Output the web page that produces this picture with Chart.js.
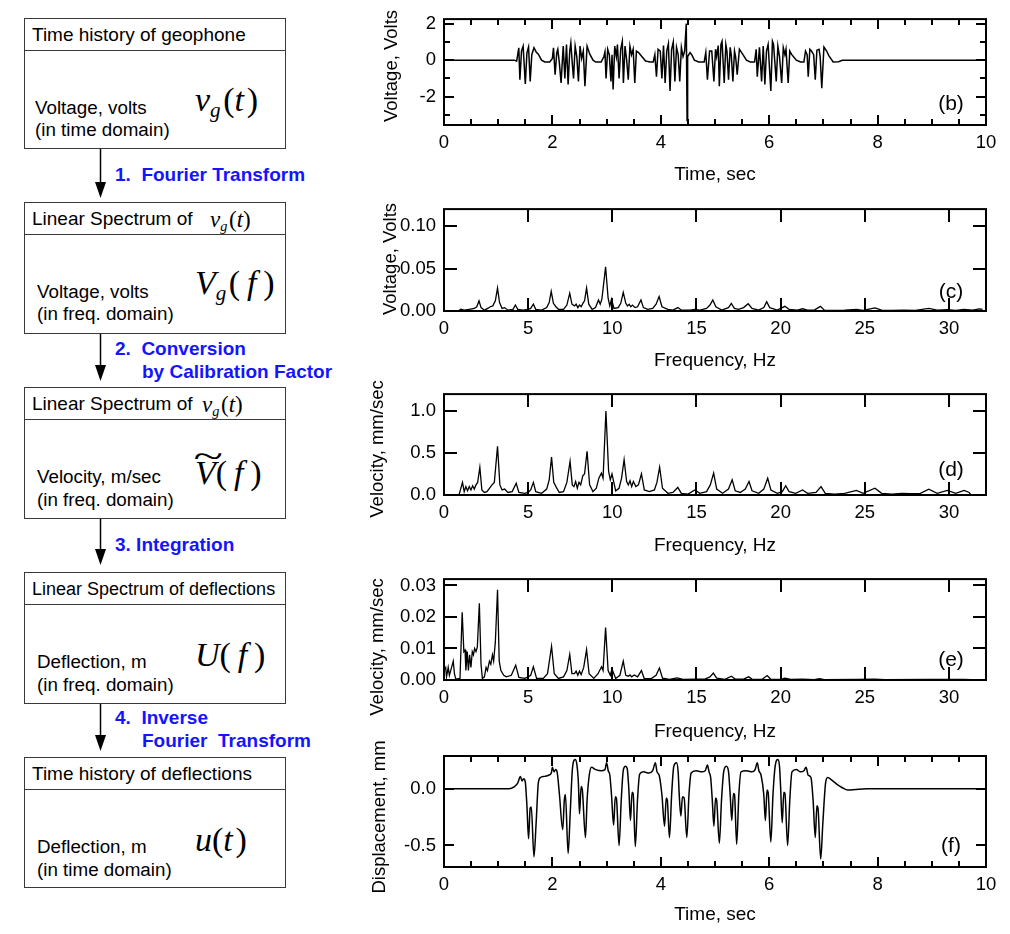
<!DOCTYPE html>
<html><head><meta charset="utf-8">
<script src="https://cdn.jsdelivr.net/npm/chart.js@4.4.0/dist/chart.umd.min.js"></script>
<style>
html,body{margin:0;padding:0;background:#fff}
body{width:1010px;height:934px;position:relative;overflow:hidden;font-family:"Liberation Sans",Arial,sans-serif;color:#000}
.box{position:absolute;left:24px;width:262px;border:1.5px solid #3a3a3a;box-sizing:border-box}
.hl{position:absolute;left:0;right:0;top:31px;border-top:1.5px solid #3a3a3a}
.t{position:absolute;white-space:pre;transform:translateY(-50%);line-height:1.15}
.h{font-size:19px}
.b{font-size:18.8px}
.blue{color:#1414ff;font-weight:bold;font-size:19px}
.m{position:absolute;white-space:pre;transform:translateY(-50%);font-family:"Liberation Serif","Times New Roman",serif;line-height:1}
.sb{font-size:0.62em;position:relative;top:0.3em;margin-right:0.12em}
.tl{position:relative;display:inline-block}
.tilde{position:absolute;left:0.12em;top:-0.5em;font-style:normal;transform:scaleX(1.6)}
canvas{position:absolute;left:360px}
</style>
</head><body>

<!-- flowchart -->
<div class="box" style="top:18px;height:131px"><div class="hl"></div></div>
<div class="box" style="top:202px;height:132px"><div class="hl"></div></div>
<div class="box" style="top:387px;height:132px"><div class="hl"></div></div>
<div class="box" style="top:572px;height:132px"><div class="hl"></div></div>
<div class="box" style="top:757px;height:131px"><div class="hl"></div></div>

<div class="t h" style="left:32px;top:35px">Time history of geophone</div>
<div class="t b" style="left:35px;top:108px">Voltage, volts</div>
<div class="t b" style="left:35px;top:130px">(in time domain)</div>
<div class="m" style="left:195px;top:100px;font-size:34px"><i>v</i><i class="sb">g</i>(<i>t</i>&#8202;)</div>

<div class="t h" style="left:32px;top:219px">Linear Spectrum of</div>
<div class="m" style="left:210px;top:219px;font-size:23px"><i>v</i><i class="sb">g</i>(<i>t</i>)</div>
<div class="t b" style="left:37px;top:292px">Voltage, volts</div>
<div class="t b" style="left:37px;top:314px">(in freq. domain)</div>
<div class="m" style="left:195px;top:283px;font-size:34px"><i>V</i><i class="sb">g</i>(&#8201;<i>f</i>&#8201;)</div>

<div class="t h" style="left:32px;top:404px">Linear Spectrum of</div>
<div class="m" style="left:202px;top:404px;font-size:23px"><i>v</i><i class="sb">g</i>(<i>t</i>)</div>
<div class="t b" style="left:37px;top:477px">Velocity, m/sec</div>
<div class="t b" style="left:37px;top:500px">(in freq. domain)</div>
<div class="m" style="left:195px;top:473px;font-size:34px"><span class="tl"><i>V</i><span class="tilde">~</span></span>(&#8201;<i>f</i>&#8201;)</div>

<div class="t h" style="left:32px;top:589px;font-size:18px">Linear Spectrum of deflections</div>
<div class="t b" style="left:37px;top:662px">Deflection, m</div>
<div class="t b" style="left:37px;top:685px">(in freq. domain)</div>
<div class="m" style="left:195px;top:655px;font-size:34px"><i>U</i>(&#8201;<i>f</i>&#8201;)</div>

<div class="t h" style="left:32px;top:774px">Time history of deflections</div>
<div class="t b" style="left:37px;top:847px">Deflection, m</div>
<div class="t b" style="left:37px;top:870px">(in time domain)</div>
<div class="m" style="left:195px;top:840px;font-size:34px"><i>u</i>(<i>t</i>&#8202;)</div>

<div class="t blue" style="left:115px;top:175px">1.  Fourier Transform</div>
<div class="t blue" style="left:115px;top:349px">2.  Conversion</div>
<div class="t blue" style="left:142px;top:372px">by Calibration Factor</div>
<div class="t blue" style="left:115px;top:545px">3. Integration</div>
<div class="t blue" style="left:115px;top:718px">4.  Inverse</div>
<div class="t blue" style="left:142px;top:741px">Fourier  Transform</div>

<svg style="position:absolute;left:0;top:0" width="360" height="934">
  <g stroke="#000" stroke-width="1.5">
    <line x1="100.5" y1="149" x2="100.5" y2="185"/>
    <line x1="100.5" y1="334" x2="100.5" y2="368"/>
    <line x1="100.5" y1="519" x2="100.5" y2="552"/>
    <line x1="100.5" y1="704" x2="100.5" y2="738"/>
  </g>
  <g fill="#000">
    <polygon points="95,182 106,182 100.5,198"/>
    <polygon points="95,365 106,365 100.5,381"/>
    <polygon points="95,549 106,549 100.5,565"/>
    <polygon points="95,735 106,735 100.5,751"/>
  </g>
</svg>

<canvas id="cb" width="650" height="190" style="top:0px"></canvas>
<canvas id="cc" width="650" height="185" style="top:190px"></canvas>
<canvas id="cd" width="650" height="185" style="top:375px"></canvas>
<canvas id="ce" width="650" height="185" style="top:560px"></canvas>
<canvas id="cf" width="650" height="199" style="top:735px"></canvas>

<script>
// ---------------- data ----------------
const timeTicks = [0, 2, 4, 6, 8, 10];
const timeMinorTicks = [0.5, 1, 1.5, 2.5, 3, 3.5, 4.5, 5, 5.5, 6.5, 7, 7.5, 8.5, 9, 9.5];
const freqTicks = [0, 5, 10, 15, 20, 25, 30];
const voltTimeTicks = [-2, 0, 2];
const voltTimeMinorTicks = [-3, -1, 1];
const voltFreqTicks = [0, 0.05, 0.10];
const velTicks = [0, 0.5, 1.0];
const velIntTicks = [0, 0.01, 0.02, 0.03];
const dispTicks = [-0.5, 0];

// (b) geophone voltage vs time [sec, volts]
const geophoneVoltage = [
[0,0],[1.3,0],[1.34,-0.05],
[1.36,0.3],[1.38,0.68],[1.40,-1.07],[1.43,0.5],[1.46,0.77],[1.50,-1.3],[1.53,0.4],[1.56,0.72],[1.59,-1.16],[1.62,0.3],[1.66,0.68],[1.70,0.45],[1.74,0.33],[1.80,0.0],[1.86,-0.1],[1.95,-0.1],
[2.0,0.1],[2.02,0.68],[2.05,-0.8],[2.08,0.4],[2.10,0.6],[2.13,-0.2],[2.16,-1.25],[2.19,0.3],[2.20,0.77],[2.23,-1.0],[2.26,0.86],[2.29,-1.33],[2.32,0.5],[2.34,0.95],[2.37,-0.3],[2.39,-1.0],[2.42,0.77],[2.45,0.2],[2.48,-1.16],[2.51,0.77],[2.54,0.1],[2.57,0.5],[2.60,-1.42],[2.64,0.77],[2.69,0.33],[2.75,0.0],[2.8,-0.1],[2.9,-0.1],
[2.95,0.2],[2.97,0.46],[2.99,-1.0],[3.02,0.6],[3.05,0.3],[3.08,-1.16],[3.10,0.3],[3.12,-1.6],[3.15,0.77],[3.18,0.2],[3.20,0.86],[3.23,-1.0],[3.26,0.6],[3.29,1.03],[3.31,-1.25],[3.34,0.77],[3.37,0.0],[3.40,-1.07],[3.43,0.77],[3.46,0.3],[3.49,0.6],[3.52,-1.25],[3.55,0.5],[3.59,0.42],[3.65,0.2],[3.72,-0.05],[3.8,-0.1],[3.86,-0.1],
[3.89,0.3],[3.92,-0.9],[3.95,0.6],[3.99,0.5],[4.02,-1.0],[4.05,0.8],[4.08,-1.25],[4.11,0.5],[4.14,0.9],[4.17,-1.68],[4.20,0.6],[4.23,1.0],[4.26,-1.16],[4.29,0.7],[4.32,0.3],[4.35,-1.16],[4.38,0.7],[4.41,0.2],[4.44,0.5],[4.47,2.0],[4.48,2.0],[4.485,-3.3],[4.49,-3.3],[4.50,0.2],[4.54,0.42],[4.57,0.3],[4.62,0.0],[4.7,-0.1],[4.8,-0.1],
[4.83,0.42],[4.86,-1.07],[4.90,0.5],[4.94,0.5],[4.98,-1.16],[5.01,0.6],[5.03,0.2],[5.06,0.8],[5.08,-1.42],[5.11,0.86],[5.13,1.03],[5.17,-1.25],[5.20,0.86],[5.22,0.5],[5.25,-1.07],[5.28,0.7],[5.30,0.3],[5.33,-1.16],[5.36,0.5],[5.38,0.2],[5.41,-0.8],[5.45,0.6],[5.51,0.33],[5.58,0.0],[5.65,-0.1],[5.73,-0.1],
[5.76,0.6],[5.78,-0.9],[5.82,0.7],[5.86,-1.16],[5.89,0.77],[5.92,-1.33],[5.95,0.5],[5.98,0.86],[6.03,-1.68],[6.06,1.03],[6.08,0.86],[6.13,-1.16],[6.16,0.77],[6.19,0.2],[6.23,-1.25],[6.26,0.68],[6.29,0.3],[6.31,0.6],[6.35,-1.25],[6.38,0.5],[6.41,0.33],[6.5,0.0],[6.58,-0.1],[6.64,-0.1],
[6.67,0.5],[6.70,0.3],[6.72,-0.9],[6.75,0.6],[6.78,0.5],[6.82,0.3],[6.85,-1.07],[6.88,0.55],[6.92,0.6],[6.94,0.2],[6.97,-1.54],[7.01,0.72],[7.06,0.5],[7.10,0.25],[7.18,-0.1],[7.28,-0.08],[7.35,0.0],[10,0]
];

// (c) linear spectrum of voltage [Hz, volts]
const voltageSpectrum = [
[0,0.0005],[0.9,0.0008],[1.0,0.002],[1.2,0.001],[1.5,0.002],[1.8,0.003],[1.95,0.005],[2.08,0.012],[2.2,0.004],[2.4,0.001],[2.6,0.003],[2.75,0.005],[2.9,0.006],[3.05,0.012],[3.18,0.027],[3.3,0.01],[3.45,0.003],[3.6,0.004],[3.8,0.001],[4.1,0.002],[4.24,0.007],[4.38,0.002],[4.7,0.001],[5.0,0.002],[5.15,0.003],[5.31,0.008],[5.45,0.002],[5.8,0.001],[6.1,0.004],[6.25,0.01],[6.37,0.023],[6.5,0.009],[6.65,0.005],[6.8,0.002],[7.1,0.002],[7.3,0.007],[7.47,0.021],[7.6,0.008],[7.75,0.006],[7.85,0.008],[7.95,0.004],[8.05,0.007],[8.15,0.005],[8.25,0.009],[8.35,0.012],[8.47,0.027],[8.6,0.008],[8.8,0.002],[9.0,0.004],[9.18,0.013],[9.28,0.008],[9.38,0.014],[9.6,0.052],[9.75,0.015],[9.85,0.006],[9.95,0.014],[10.1,0.003],[10.35,0.004],[10.5,0.009],[10.65,0.022],[10.8,0.009],[10.9,0.006],[11.0,0.008],[11.1,0.005],[11.2,0.007],[11.35,0.004],[11.5,0.005],[11.7,0.013],[11.85,0.004],[12.1,0.002],[12.4,0.003],[12.6,0.008],[12.78,0.017],[12.95,0.005],[13.3,0.002],[13.6,0.001],[13.9,0.004],[14.1,0.001],[14.6,0.001],[14.9,0.002],[15.2,0.001],[15.6,0.003],[15.8,0.007],[15.97,0.013],[16.15,0.005],[16.5,0.001],[16.9,0.004],[17.07,0.009],[17.25,0.003],[17.5,0.002],[17.8,0.004],[18.07,0.0085],[18.3,0.003],[18.7,0.001],[19.0,0.004],[19.17,0.011],[19.35,0.004],[19.8,0.001],[20.25,0.0055],[20.5,0.002],[21.0,0.001],[21.3,0.0026],[21.6,0.001],[22.0,0.001],[22.36,0.0055],[22.6,0.001],[23.2,0.0008],[23.8,0.001],[24.5,0.002],[24.9,0.0008],[25.6,0.0037],[26.0,0.001],[26.6,0.0008],[27.3,0.001],[28.0,0.0008],[28.8,0.003],[29.3,0.001],[29.9,0.0015],[30.4,0.0008],[30.9,0.002],[31.4,0.001],[31.8,0.0025],[32,0.002]
];

// (d) linear spectrum of velocity [Hz, mm/sec]
const velocitySpectrum = [
[0,0.005],[0.9,0.006],[1.1,0.15],[1.2,0.04],[1.3,0.1],[1.4,0.05],[1.5,0.1],[1.6,0.06],[1.7,0.11],[1.8,0.07],[1.9,0.12],[2.0,0.15],[2.13,0.33],[2.25,0.06],[2.4,0.03],[2.55,0.04],[2.7,0.08],[2.85,0.12],[2.99,0.15],[3.18,0.58],[3.32,0.12],[3.45,0.06],[3.6,0.07],[3.8,0.03],[4.05,0.04],[4.29,0.14],[4.45,0.03],[4.8,0.02],[5.0,0.03],[5.15,0.06],[5.31,0.15],[5.45,0.04],[5.8,0.02],[6.1,0.07],[6.25,0.18],[6.39,0.45],[6.52,0.15],[6.65,0.1],[6.85,0.03],[7.1,0.04],[7.3,0.15],[7.49,0.4],[7.62,0.12],[7.72,0.1],[7.82,0.16],[7.92,0.08],[8.02,0.15],[8.12,0.12],[8.25,0.23],[8.35,0.25],[8.5,0.52],[8.65,0.12],[8.85,0.04],[9.05,0.08],[9.2,0.2],[9.35,0.26],[9.45,0.2],[9.62,1.0],[9.78,0.28],[9.88,0.18],[9.98,0.25],[10.2,0.05],[10.4,0.08],[10.55,0.2],[10.7,0.42],[10.85,0.16],[10.95,0.12],[11.05,0.17],[11.15,0.1],[11.25,0.16],[11.4,0.1],[11.55,0.12],[11.73,0.25],[11.9,0.06],[12.2,0.04],[12.5,0.06],[12.65,0.15],[12.81,0.33],[12.98,0.08],[13.3,0.02],[13.6,0.03],[13.89,0.09],[14.1,0.02],[14.5,0.01],[14.9,0.06],[15.2,0.02],[15.6,0.04],[15.82,0.12],[16.02,0.26],[16.2,0.07],[16.55,0.02],[16.9,0.07],[17.12,0.18],[17.3,0.05],[17.6,0.03],[17.9,0.07],[18.12,0.16],[18.3,0.05],[18.7,0.02],[19.0,0.07],[19.23,0.2],[19.42,0.06],[19.8,0.02],[20.1,0.04],[20.3,0.11],[20.5,0.04],[20.9,0.02],[21.3,0.06],[21.6,0.02],[22.1,0.03],[22.4,0.1],[22.65,0.02],[23.2,0.01],[23.8,0.02],[24.5,0.055],[24.9,0.02],[25.6,0.08],[26.0,0.02],[26.6,0.01],[27.2,0.02],[27.7,0.015],[28.3,0.02],[28.8,0.07],[29.3,0.02],[29.9,0.055],[30.4,0.02],[30.9,0.055],[31.2,0.03],[31.3,0.005]
];

// (e) spectrum after integration [Hz, value]
const integratedSpectrum = [
[0,0.003],[0.1,0.004],[0.15,0.001],[0.25,0.004],[0.32,0.0015],[0.45,0.004],[0.55,0.006],[0.62,0.002],[0.7,0.0003],[0.95,0.0005],[1.08,0.0215],[1.18,0.009],[1.25,0.0095],[1.3,0.003],[1.38,0.009],[1.45,0.003],[1.52,0.008],[1.6,0.004],[1.68,0.009],[1.75,0.008],[1.82,0.01],[1.9,0.009],[1.98,0.0104],[2.1,0.0243],[2.2,0.005],[2.28,0.0005],[2.4,0.001],[2.5,0.004],[2.58,0.003],[2.7,0.006],[2.78,0.005],[2.88,0.008],[2.95,0.006],[3.05,0.012],[3.18,0.0286],[3.28,0.006],[3.38,0.003],[3.55,0.0015],[3.7,0.001],[4.0,0.0015],[4.26,0.0047],[4.45,0.0008],[4.8,0.0005],[5.0,0.001],[5.15,0.0015],[5.31,0.0042],[5.5,0.0005],[5.9,0.0005],[6.15,0.002],[6.39,0.0107],[6.55,0.002],[6.8,0.0005],[7.1,0.001],[7.3,0.003],[7.47,0.0081],[7.6,0.002],[7.75,0.002],[7.85,0.0028],[7.95,0.0015],[8.05,0.0028],[8.15,0.0017],[8.3,0.004],[8.47,0.0096],[8.62,0.002],[8.9,0.0005],[9.15,0.002],[9.36,0.0042],[9.45,0.003],[9.6,0.0166],[9.75,0.003],[9.88,0.0015],[9.98,0.0035],[10.2,0.0005],[10.45,0.0015],[10.65,0.006],[10.8,0.0015],[10.95,0.0012],[11.05,0.0016],[11.15,0.001],[11.3,0.0016],[11.5,0.001],[11.73,0.003],[11.9,0.0004],[12.3,0.0004],[12.6,0.0015],[12.8,0.0038],[12.98,0.0006],[13.4,0.0002],[13.84,0.0007],[14.2,0.0002],[14.9,0.0003],[15.5,0.0003],[15.8,0.001],[16.0,0.0022],[16.2,0.0006],[16.7,0.0002],[17.07,0.0012],[17.3,0.0003],[17.8,0.0003],[18.1,0.001],[18.3,0.0003],[18.9,0.0002],[19.2,0.0014],[19.4,0.0003],[20.0,0.0002],[20.25,0.0006],[20.6,0.0002],[21.3,0.0003],[22.0,0.0001],[22.3,0.0004],[22.6,0.0001],[24.5,0.0002],[25.6,0.0003],[26.2,0.0001],[28.8,0.0002],[29.9,0.0002],[30.9,0.0002],[31.3,0.0001]
];

// (f) displacement vs time [sec, mm]
const displacement = [
[0,0],[1.2,0],[1.3,0.02],[1.36,0.05],[1.41,0.11],[1.44,0.07],[1.47,0.09],[1.5,0.06],[1.53,-0.15],[1.56,-0.44],[1.59,-0.17],[1.61,-0.16],[1.66,-0.6],[1.70,-0.3],[1.74,0.05],[1.78,0.1],[1.85,0.11],[1.93,0.12],[1.98,0.14],[2.0,0.19],[2.03,0.15],[2.06,0.17],[2.09,0.14],[2.13,-0.05],[2.19,-0.36],[2.22,-0.1],[2.24,-0.05],[2.29,-0.57],[2.33,-0.2],[2.37,0.18],[2.42,0.26],[2.45,0.22],[2.48,0.05],[2.5,-0.22],[2.53,0.02],[2.55,0.0],[2.61,-0.43],[2.64,-0.1],[2.68,0.12],[2.72,0.19],[2.8,0.17],[2.9,0.16],[2.97,0.17],[3.0,0.23],[3.03,0.16],[3.06,0.12],[3.09,-0.05],[3.13,-0.32],[3.16,-0.07],[3.18,-0.08],[3.23,-0.5],[3.27,-0.1],[3.31,0.17],[3.35,0.2],[3.38,0.18],[3.41,0.0],[3.44,-0.28],[3.47,-0.03],[3.49,-0.04],[3.53,-0.51],[3.57,-0.1],[3.61,0.13],[3.68,0.15],[3.78,0.14],[3.85,0.16],[3.9,0.23],[3.93,0.15],[3.97,0.12],[4.02,-0.05],[4.07,-0.33],[4.1,-0.08],[4.12,-0.1],[4.16,-0.43],[4.2,-0.05],[4.24,0.2],[4.29,0.23],[4.32,0.15],[4.34,-0.05],[4.37,-0.24],[4.40,-0.07],[4.43,-0.08],[4.48,-0.43],[4.52,-0.05],[4.56,0.14],[4.65,0.16],[4.75,0.15],[4.82,0.16],[4.86,0.21],[4.89,0.15],[4.92,0.1],[4.95,-0.1],[4.98,-0.33],[5.01,-0.08],[5.03,-0.1],[5.08,-0.48],[5.12,-0.1],[5.16,0.15],[5.21,0.2],[5.25,0.15],[5.28,-0.05],[5.31,-0.28],[5.34,-0.04],[5.36,-0.05],[5.40,-0.49],[5.44,-0.05],[5.48,0.15],[5.58,0.16],[5.68,0.15],[5.74,0.17],[5.78,0.23],[5.81,0.16],[5.85,0.12],[5.9,-0.05],[5.93,-0.28],[5.96,-0.01],[5.98,-0.03],[6.03,-0.47],[6.07,-0.05],[6.11,0.2],[6.16,0.26],[6.19,0.2],[6.21,0.02],[6.24,-0.3],[6.27,-0.03],[6.29,-0.04],[6.34,-0.5],[6.38,-0.1],[6.42,0.15],[6.5,0.17],[6.58,0.15],[6.64,0.16],[6.68,0.19],[6.72,0.12],[6.77,0.1],[6.81,-0.1],[6.85,-0.43],[6.88,-0.15],[6.9,-0.17],[6.95,-0.62],[6.99,-0.3],[7.04,0.05],[7.08,0.1],[7.15,0.08],[7.25,0.04],[7.35,0.01],[7.45,-0.01],[7.6,-0.005],[7.8,0.0],[8.5,0.0],[10,0]
];

// ---------------- drawing ----------------
Chart.defaults.font.family = '"Liberation Sans", Arial, sans-serif';
Chart.defaults.color = '#000';

const frameTicks = {
  id: 'frameTicks',
  afterDatasetsDraw(chart, args, o) {
    const ctx = chart.ctx, a = chart.chartArea, xs = chart.scales.x, ys = chart.scales.y;
    ctx.save();
    ctx.strokeStyle = '#000';
    ctx.lineWidth = 2;
    ctx.strokeRect(a.left, a.top, a.right - a.left, a.bottom - a.top);
    ctx.beginPath();
    const hx = (vals, len) => vals.forEach(v => {
      const p = Math.round(xs.getPixelForValue(v));
      ctx.moveTo(p, a.bottom); ctx.lineTo(p, a.bottom - len);
      ctx.moveTo(p, a.top); ctx.lineTo(p, a.top + len);
    });
    const vy = (vals, len) => vals.forEach(v => {
      const p = Math.round(ys.getPixelForValue(v));
      ctx.moveTo(a.left, p); ctx.lineTo(a.left + len, p);
      ctx.moveTo(a.right, p); ctx.lineTo(a.right - len, p);
    });
    hx(o.xMajor || [], o.majorLen); hx(o.xMinor || [], o.minorLen);
    vy(o.yMajor || [], o.majorLen); vy(o.yMinor || [], o.minorLen);
    ctx.stroke();
    // panel tag
    ctx.fillStyle = '#000';
    ctx.font = '21px "Liberation Sans", Arial, sans-serif';
    ctx.textAlign = 'center'; ctx.textBaseline = 'middle';
    ctx.fillText(o.tag, a.right - 35, a.bottom - o.tagUp);
    // y title
    ctx.save();
    ctx.font = '18.5px "Liberation Sans", Arial, sans-serif';
    ctx.translate(o.yTitleX, o.yTitleY);
    ctx.rotate(-Math.PI / 2);
    ctx.fillText(o.yTitle, 0, 0);
    ctx.restore();
    ctx.restore();
  }
};

function makeChart(id, c) {
  new Chart(document.getElementById(id), {
    type: 'line',
    data: { datasets: [{
      data: c.data.map(p => ({ x: p[0], y: p[1] })),
      borderColor: '#000', borderWidth: c.lw, pointRadius: 0,
      tension: c.tension || 0, cubicInterpolationMode: c.mono ? 'monotone' : 'default', fill: false
    }]},
    options: {
      responsive: false, animation: false, events: [],
      layout: { padding: { left: 0, right: 24, top: c.padT, bottom: 0 } },
      plugins: {
        legend: { display: false }, tooltip: { enabled: false },
        frameTicks: {
          xMajor: c.xLabels, xMinor: c.xMinor, yMajor: c.yLabels, yMinor: c.yMinor,
          majorLen: c.majorLen, minorLen: c.minorLen, tag: c.tag, tagUp: c.tagUp,
          yTitle: c.yTitle, yTitleX: c.yTitleX, yTitleY: c.yTitleY
        }
      },
      scales: {
        x: {
          type: 'linear', min: c.xmin, max: c.xmax,
          grid: { display: false, drawTicks: false }, border: { display: false },
          afterBuildTicks: s => { s.ticks = c.xLabels.map(v => ({ value: v })); },
          afterFit: s => { s.height = c.xH; },
          ticks: { autoSkip: false, maxRotation: 0, padding: 7, color: '#000', font: { size: 18.5 },
                   callback: v => String(v) },
          title: { display: true, text: c.xTitle, color: '#000', font: { size: 19 },
                   padding: { top: 0, bottom: c.xTitlePad } }
        },
        y: {
          type: 'linear', min: c.ymin, max: c.ymax,
          grid: { display: false, drawTicks: false }, border: { display: false },
          afterBuildTicks: s => { s.ticks = c.yLabels.map(v => ({ value: v })); },
          afterFit: s => { s.width = 84; },
          ticks: { autoSkip: false, padding: 8, color: '#000', font: { size: 18.5 },
                   callback: v => c.yFmt(v) }
        }
      }
    },
    plugins: [frameTicks]
  });
}

makeChart('cb', {
  data: geophoneVoltage, lw: 1.5, xmin: 0, xmax: 10, ymin: -3.55, ymax: 2.25,
  xLabels: timeTicks, xMinor: timeMinorTicks, yLabels: voltTimeTicks, yMinor: voltTimeMinorTicks,
  yFmt: v => String(v), padT: 15, xH: 65, xTitle: 'Time, sec', xTitlePad: 4,
  majorLen: 10, minorLen: 6, tag: '(b)', tagUp: 21,
  yTitle: 'Voltage, Volts', yTitleX: 32, yTitleY: 66
});
makeChart('cc', {
  data: voltageSpectrum, lw: 1.3, xmin: 0, xmax: 32.2, ymin: 0, ymax: 0.12,
  xLabels: freqTicks, xMinor: [], yLabels: voltFreqTicks, yMinor: [],
  yFmt: v => v.toFixed(2), padT: 13, xH: 64, xTitle: 'Frequency, Hz', xTitlePad: 3,
  majorLen: 13, minorLen: 0, tag: '(c)', tagUp: 19,
  yTitle: 'Voltage, Volts', yTitleX: 31, yTitleY: 69
});
makeChart('cd', {
  data: velocitySpectrum, lw: 1.3, xmin: 0, xmax: 32.2, ymin: 0, ymax: 1.2,
  xLabels: freqTicks, xMinor: [], yLabels: velTicks, yMinor: [],
  yFmt: v => v.toFixed(1), padT: 12, xH: 65, xTitle: 'Frequency, Hz', xTitlePad: 3,
  majorLen: 13, minorLen: 0, tag: '(d)', tagUp: 25,
  yTitle: 'Velocity, mm/sec', yTitleX: 18, yTitleY: 74
});
makeChart('ce', {
  data: integratedSpectrum, lw: 1.3, xmin: 0, xmax: 32.2, ymin: 0, ymax: 0.032,
  xLabels: freqTicks, xMinor: [], yLabels: velIntTicks, yMinor: [],
  yFmt: v => v.toFixed(2), padT: 12, xH: 65, xTitle: 'Frequency, Hz', xTitlePad: 2,
  majorLen: 13, minorLen: 0, tag: '(e)', tagUp: 20,
  yTitle: 'Velocity, mm/sec', yTitleX: 18, yTitleY: 87
});
makeChart('cf', {
  data: displacement, lw: 1.5, mono: true, xmin: 0, xmax: 10, ymin: -0.69, ymax: 0.29,
  xLabels: timeTicks, xMinor: timeMinorTicks, yLabels: dispTicks, yMinor: [],
  yFmt: v => v.toFixed(1), padT: 21, xH: 67, xTitle: 'Time, sec', xTitlePad: 8,
  majorLen: 10, minorLen: 6, tag: '(f)', tagUp: 21,
  yTitle: 'Displacement, mm', yTitleX: 20, yTitleY: 82
});
</script>
</body></html>
